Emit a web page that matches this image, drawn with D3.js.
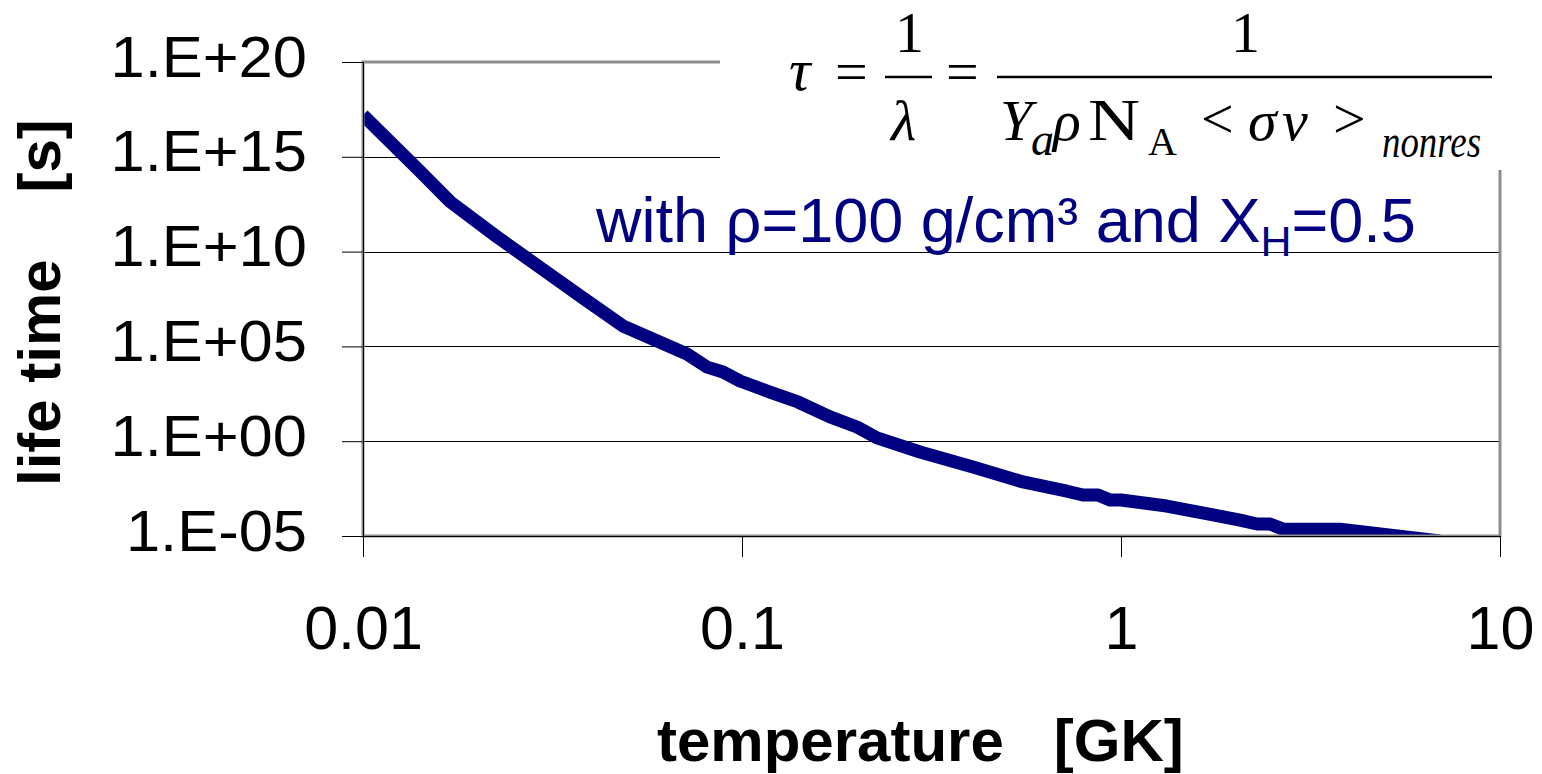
<!DOCTYPE html>
<html><head><meta charset="utf-8">
<script src="https://cdn.jsdelivr.net/npm/d3@7"></script>
<style>
body{margin:0;background:#fff}
text{white-space:pre}
</style>
</head><body>
<svg id="chart" width="1542" height="774"></svg>
<script>
// ---- data ----
const temperatureGK = [0.01, 0.0141, 0.017, 0.0226, 0.0299, 0.0381, 0.0485, 0.0716, 0.0809, 0.0891,
  0.0988, 0.1185, 0.1405, 0.1707, 0.2011, 0.2271, 0.2949, 0.4069, 0.5513, 0.7203,
  0.7938, 0.8698, 0.935, 1.0, 1.32, 1.749, 2.061, 2.285, 2.472, 2.676, 3.783, 6.946];
const lifetimeS = [1.6e17, 1.8e14, 4.2e12, 5.9e10, 1.1e9, 3.5e7, 1.2e6, 4.0e4, 8.1e3, 4.5e3,
  1.5e3, 390, 117, 19, 5.6, 1.5, 0.27, 0.044, 0.0071, 0.0023,
  0.00145, 0.00145, 7.9e-4, 7.9e-4, 3.8e-4, 1.3e-4, 6.9e-5, 4.3e-5, 4.3e-5, 2.3e-5, 2.3e-5, 5.5e-6];
const xTickValues = [0.01, 0.1, 1, 10];
const xTickLabels = ["0.01", "0.1", "1", "10"];
const yTickValues = [1e-5, 1, 1e5, 1e10, 1e15, 1e20];
const yTickLabels = ["1.E-05", "1.E+00", "1.E+05", "1.E+10", "1.E+15", "1.E+20"];
const xTitle = "temperature   [GK]";
const yTitle = "life time    [s]";

// ---- layout ----
const svg = d3.select("#chart");
const M = {left: 363, right: 1500, top: 62, bottom: 536};
const SANS = "'Liberation Sans', Arial, sans-serif";
const SERIF = "'Liberation Serif', 'Times New Roman', serif";
const x = d3.scaleLog().domain([0.01, 10]).range([M.left, M.right]);
const y = d3.scaleLog().domain([1e-5, 1e20]).range([M.bottom, M.top]);

// gridlines
svg.append("g").selectAll("line")
  .data(yTickValues.filter(v => v > 1e-5 && v < 1e20)).join("line")
  .attr("x1", M.left).attr("x2", M.right)
  .attr("y1", d => Math.round(y(d)) + 0.5).attr("y2", d => Math.round(y(d)) + 0.5)
  .attr("stroke", "#000").attr("stroke-width", 1);

// curve
svg.append("clipPath").attr("id", "plotclip").append("rect")
  .attr("x", M.left).attr("y", M.top).attr("width", M.right - M.left).attr("height", M.bottom - M.top);
const pts = temperatureGK.map((t, i) => [t, lifetimeS[i]]);
svg.append("path").datum(pts)
  .attr("clip-path", "url(#plotclip)")
  .attr("d", d3.line().x(d => x(d[0])).y(d => y(d[1])))
  .attr("fill", "none").attr("stroke", "#000080").attr("stroke-width", 13)
  .attr("stroke-linejoin", "round");

// plot border
svg.append("rect").attr("x", M.left).attr("y", M.top)
  .attr("width", M.right - M.left).attr("height", M.bottom - M.top)
  .attr("fill", "none").attr("stroke", "#8c8c8c").attr("stroke-width", 3);

// axes
const yAxis = svg.append("g").attr("transform", `translate(${M.left},0)`)
  .call(d3.axisLeft(y).tickValues(yTickValues).tickSize(21).tickSizeOuter(0)
    .tickFormat((d, i) => yTickLabels[i]));
yAxis.select(".domain").attr("stroke", "#000").attr("stroke-width", 1);
yAxis.selectAll(".tick line").attr("stroke", "#000");
yAxis.selectAll(".tick text")
  .attr("x", null).attr("dy", null).attr("y", 14)
  .attr("transform", "translate(-56,0) scale(1.06,1)")
  .attr("font-family", SANS).attr("font-size", 58).attr("fill", "#000");

const xAxis = svg.append("g").attr("transform", `translate(0,${M.bottom})`)
  .call(d3.axisBottom(x).tickValues(xTickValues).tickSize(21).tickSizeOuter(0)
    .tickFormat((d, i) => xTickLabels[i]));
xAxis.select(".domain").attr("stroke", "#000").attr("stroke-width", 1);
xAxis.selectAll(".tick line").attr("stroke", "#000");
xAxis.selectAll(".tick text")
  .attr("dy", null).attr("y", 113)
  .attr("font-family", SANS).attr("font-size", 61).attr("fill", "#000");

// axis titles
svg.append("text").attr("x", 657).attr("y", 761)
  .attr("font-family", SANS).attr("font-weight", "bold").attr("font-size", 60)
  .text(xTitle);
svg.append("text").attr("transform", "translate(60,486) rotate(-90)")
  .attr("font-family", SANS).attr("font-weight", "bold").attr("font-size", 60)
  .text(yTitle);

// formula box
svg.append("rect").attr("x", 720).attr("y", 0).attr("width", 810).attr("height", 170).attr("fill", "#fff");
const formula = [
  {t: "τ", x: 789, y: 90, s: 60, i: true},
  {t: "=", x: 835, y: 91, s: 58},
  {t: "1", x: 895, y: 52, s: 58},
  {t: "λ", x: 891, y: 140, s: 58, i: true},
  {t: "=", x: 946, y: 91, s: 58},
  {t: "1", x: 1231, y: 52, s: 58},
  {t: "Y", x: 1000, y: 140, s: 58, i: true},
  {t: "a", x: 1031, y: 155, s: 46, i: true},
  {t: "ρ", x: 1053, y: 140, s: 58, i: true},
  {t: "N", x: 1088, y: 140, s: 60, len: 52},
  {t: "A", x: 1148, y: 155, s: 40},
  {t: "<", x: 1201, y: 138, s: 58},
  {t: "σ", x: 1248, y: 140, s: 58, i: true},
  {t: "v", x: 1282, y: 140, s: 58, i: true},
  {t: ">", x: 1333, y: 138, s: 58},
  {t: "nonres", x: 1382, y: 157, s: 46, i: true, len: 99}
];
const fg = svg.append("g").attr("font-family", SERIF).attr("fill", "#000");
formula.forEach(p => {
  const el = fg.append("text").attr("x", p.x).attr("y", p.y).attr("font-size", p.s)
    .attr("font-style", p.i ? "italic" : "normal").text(p.t);
  if (p.len) el.attr("textLength", p.len).attr("lengthAdjust", "spacingAndGlyphs");
});
fg.append("line").attr("x1", 885).attr("x2", 932).attr("y1", 77).attr("y2", 77).attr("stroke", "#000").attr("stroke-width", 2.5);
fg.append("line").attr("x1", 997).attr("x2", 1492).attr("y1", 77).attr("y2", 77).attr("stroke", "#000").attr("stroke-width", 2.5);

// blue annotation
const note = svg.append("text").attr("x", 596).attr("y", 242)
  .attr("font-family", SANS).attr("font-size", 63).attr("fill", "#000080");
note.append("tspan").text("with ρ=100 g/cm³ and X");
note.append("tspan").attr("dy", 14).attr("font-size", 43).text("H");
note.append("tspan").attr("dy", -14).text("=0.5");
</script>
</body></html>
